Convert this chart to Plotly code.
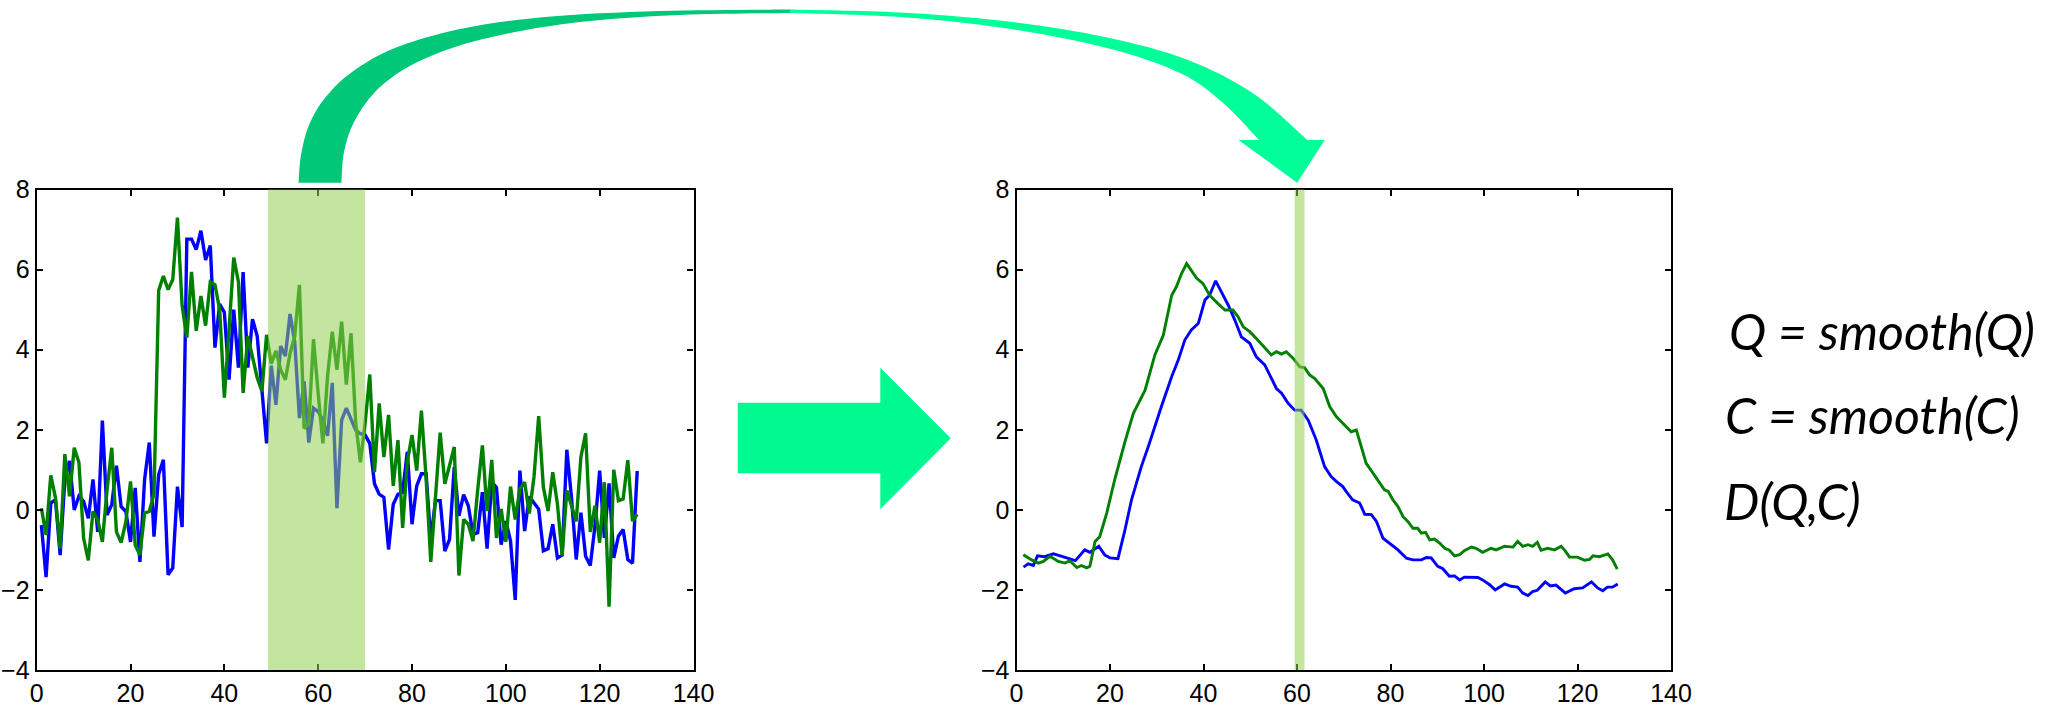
import plotly.graph_objects as go

W, H = 2070, 706

# ---------------- data ----------------
raw_x = list(range(1, 129))
raw_q = [-0.38, -1.68, 0.17, 0.25, -1.13, 0.76, 1.22, 0.0, 0.34, 0.21,
         -0.21, 0.76, -0.55, 2.23, -0.13, 0.13, 1.1, 0.08, -0.04, -0.8,
         0.55, -1.3, 0.76, 1.68, -0.67, 0.88, 1.25, -1.62, -1.45, 0.58,
         -0.43, 6.76, 6.76, 6.5, 6.97, 6.24, 6.6, 4.05, 5.14, 4.93,
         3.25, 5.0, 3.55, 5.94, 3.55, 4.76, 4.34, 3.0, 1.66, 3.6,
         2.62, 4.09, 3.84, 4.89, 4.2, 2.29, 3.21, 1.68, 2.54, 2.45,
         2.24, 1.85, 3.17, 0.04, 2.24, 2.54, 2.24, 1.99, 1.9, 1.87,
         1.66, 0.65, 0.39, 0.31, -0.99, 0.14, 0.39, 0.44, 1.45, -0.36,
         0.6, 0.9, 0.9, -0.75, 0.23, 0.23, -1.03, -0.74, 1.07, -0.15,
         0.38, 0.1, -0.61, -0.57, 0.44, -0.97, 0.69, 0.56, -0.87, -0.28,
         -0.78, -2.25, 0.98, -0.53, 0.33, 0.18, 0.02, -1.02, -0.97, -0.36,
         -1.2, -1.13, 1.5, 0.3, -1.24, -0.07, -1.16, -1.39, -0.4, 0.98,
         -0.7, 0.66, -1.2, -0.66, -0.49, -1.24, -1.33, 0.97]
raw_c = [0.04, -0.63, 0.86, 0.3, -0.97, 1.39, 0.34, 1.55, 1.18, -0.71,
         -1.26, -0.04, -0.25, -0.8, 0.5, 1.55, -0.55, -0.82, -0.3, 0.71,
         -0.88, -1.13, -0.08, -0.04, 0.4, 5.48, 5.84, 5.5, 5.75, 7.3,
         5.1, 4.3, 5.94, 4.47, 5.34, 4.6, 5.69, 5.62, 5.0, 2.8,
         4.5, 6.3, 5.69, 2.92, 4.34, 3.8, 3.3, 2.96, 4.37, 3.65,
         3.97, 3.5, 3.25, 3.9, 4.34, 5.62, 2.03, 2.16, 4.26, 2.9,
         1.66, 3.34, 4.45, 3.5, 4.7, 3.13, 4.41, 2.16, 1.19, 2.16,
         3.38, 0.94, 2.66, 1.32, 2.37, 0.6, 1.74, -0.45, 1.2, 1.87,
         0.98, 2.48, 0.8, -1.3, 0.4, 1.93, 0.65, 1.15, 1.57, -1.64,
         -0.24, -0.36, -0.78, 0.5, 1.61, -0.03, 1.25, -0.7, 0.02, -0.8,
         0.58, -0.24, 0.52, 0.69, -0.09, 0.82, 2.34, 0.56, -0.03, 0.94,
         0.14, -1.14, 0.48, 0.1, -0.29, 1.32, 1.91, -0.55, 0.1, -0.82,
         0.69, -2.42, 1.0, 0.23, 0.27, 1.24, -0.28, -0.11]

smooth_q_x = [1.5, 2.5, 3.6, 4.5, 6.0, 7.9, 9.7, 11.1, 12.6, 14.6, 15.7, 17.6, 18.9, 20, 21.7,
              23.2, 24.6, 26.7, 28.2, 31, 33.2, 34.6, 36, 37.4, 38.9, 40.3, 41.3, 42.6, 43.8,
              45.3, 46.7, 48.1, 49.9, 51.3, 53.1, 54.5, 55.6, 56.7, 58.1, 59.5, 60.9, 62.4,
              64.1, 65.9, 67.3, 68.4, 69.8, 70.5, 71.9, 73.4, 74.5, 75.9, 77, 78.4, 79.8,
              81.6, 83.4, 84.8, 86.6, 87.7, 88.7, 90.1, 91.2, 92.6, 93.7, 94.8, 95.8, 97.3,
              98.7, 99.7, 101.2, 102.4, 104.4, 105.8, 107.2, 108.3, 109.4, 110.4, 111.4,
              113.1, 114.2, 115.4, 117.4, 119.3, 121.1, 123, 124.3, 125.4, 126.4, 127.5, 128.6]
smooth_q = [-1.43, -1.35, -1.39, -1.15, -1.17, -1.1, -1.16, -1.22, -1.27, -1.0, -1.06, -0.91, -1.13, -1.2, -1.22,
            -0.5, 0.25, 1.08, 1.58, 2.58, 3.33, 3.74, 4.24, 4.49, 4.66, 5.24, 5.36, 5.72, 5.44,
            5.11, 4.74, 4.32, 4.16, 3.82, 3.62, 3.28, 3.03, 2.91, 2.66, 2.49, 2.49, 2.24,
            1.75, 1.08, 0.83, 0.71, 0.58, 0.46, 0.25, 0.17, -0.11, -0.12, -0.29, -0.71, -0.83,
            -1.0, -1.21, -1.25, -1.25, -1.19, -1.2, -1.41, -1.47, -1.66, -1.65, -1.75, -1.68, -1.68,
            -1.69, -1.75, -1.87, -2.0, -1.85, -1.91, -1.93, -2.08, -2.14, -2.04, -2.01,
            -1.8, -1.9, -1.88, -2.08, -1.97, -1.95, -1.8, -1.95, -2.02, -1.93, -1.93, -1.85]

smooth_c_x = [1.46, 3.24, 4.67, 5.73, 7.16, 8.94, 10.4, 11.4, 12.9, 13.9, 15, 15.7, 16.8, 17.8,
              19.3, 21, 23.2, 25, 27.5, 29.6, 31.4, 33.2, 34.2, 35.3, 36.4, 37.4, 38.5, 39.9,
              41.3, 43.1, 44.6, 46.3, 47.4, 48.5, 49.9, 51.3, 52.7, 54.5, 55.6, 56.7, 57.7,
              59.2, 60.6, 61.6, 62.7, 63.8, 65.6, 67, 68.4, 70.2, 71.6, 72.7, 73.8, 74.8,
              76.3, 77.3, 78.7, 79.5, 80.5, 81.6, 82.7, 83.7, 84.8, 85.8, 86.6, 87.5, 88.4,
              89.4, 90.5, 91.6, 92.6, 93.7, 94.8, 95.8, 97.3, 98.3, 99.7, 101.5, 102.6, 104.4,
              106.2, 107.2, 108.3, 109.4, 110.4, 111.4, 112.2, 113.6, 115.1, 116.5, 117.2,
              118.3, 120, 121.5, 122.6, 123.3, 124.7, 126.5, 127.5, 128.5]
smooth_c = [-1.12, -1.25, -1.33, -1.29, -1.16, -1.29, -1.33, -1.27, -1.44, -1.39, -1.45, -1.41, -0.79, -0.67,
            -0.08, 0.75, 1.7, 2.41, 2.99, 3.87, 4.36, 5.36, 5.57, 5.9, 6.15, 5.99, 5.79, 5.65,
            5.36, 5.15, 4.99, 4.99, 4.82, 4.57, 4.45, 4.28, 4.11, 3.87, 3.95, 3.89, 3.95,
            3.78, 3.57, 3.55, 3.37, 3.28, 3.03, 2.58, 2.33, 2.12, 1.95, 1.99, 1.58, 1.16,
            0.91, 0.75, 0.5, 0.46, 0.25, 0.08, -0.17, -0.29, -0.46, -0.46, -0.58, -0.56, -0.75,
            -0.73, -0.83, -0.96, -1.01, -1.15, -1.12, -1.02, -0.93, -0.96, -1.06, -0.96, -1.0, -0.91,
            -0.93, -0.79, -0.91, -0.87, -0.91, -0.81, -1.01, -0.96, -1.0, -0.91, -1.0,
            -1.18, -1.18, -1.26, -1.24, -1.15, -1.17, -1.1, -1.25, -1.48]

window_left = [49.3, 70.0]
window_right = [59.5, 61.6]

x_ticks = [0, 20, 40, 60, 80, 100, 120, 140]
y_ticks = [-4, -2, 0, 2, 4, 6, 8]
texts = ["Q = smooth(Q)", "C = smooth(C)", "D(Q,C)"]

# ---------------- figure ----------------
BLUE = "#0000ff"
GREEN = "#008000"

fig = go.Figure()
fig.add_trace(go.Scatter(x=raw_x, y=raw_q, mode="lines", line=dict(color=BLUE, width=3.4),
                         xaxis="x", yaxis="y", showlegend=False))
fig.add_trace(go.Scatter(x=raw_x, y=raw_c, mode="lines", line=dict(color=GREEN, width=3.4),
                         xaxis="x", yaxis="y", showlegend=False))
fig.add_trace(go.Scatter(x=smooth_q_x, y=smooth_q, mode="lines", line=dict(color=BLUE, width=2.9),
                         xaxis="x2", yaxis="y2", showlegend=False))
fig.add_trace(go.Scatter(x=smooth_c_x, y=smooth_c, mode="lines", line=dict(color=GREEN, width=2.9),
                         xaxis="x2", yaxis="y2", showlegend=False))


def px(x, y):
    return x / W, 1 - y / H


ydom = [1 - 670 / H, 1 - 189.5 / H]
axis_common = dict(showgrid=False, zeroline=False, showline=True, linecolor="black", linewidth=2.2,
                   mirror="ticks", ticks="inside", ticklen=6, tickwidth=1.6, tickcolor="black",
                   automargin=False,
                   tickfont=dict(family="Liberation Sans, Arial", size=25, color="black"))

fig.update_layout(
    width=W, height=H, margin=dict(l=0, r=0, t=0, b=0, pad=0, autoexpand=False),
    paper_bgcolor="white", plot_bgcolor="white",
    xaxis=dict(domain=[36.7 / W, 693.5 / W], range=[0, 140], tickvals=x_ticks, anchor="y", **axis_common),
    yaxis=dict(domain=ydom, range=[-4, 8], tickvals=y_ticks, anchor="x", **axis_common),
    xaxis2=dict(domain=[1016.5 / W, 1671 / W], range=[0, 140], tickvals=x_ticks, anchor="y2", **axis_common),
    yaxis2=dict(domain=ydom, range=[-4, 8], tickvals=y_ticks, anchor="x2", **axis_common),
)

shapes = []
# highlighted windows
for xr, xref, yref in [(window_left, "x", "y domain"), (window_right, "x2", "y2 domain")]:
    shapes.append(dict(type="rect", xref=xref, yref=yref, x0=xr[0], x1=xr[1], y0=0, y1=1,
                       fillcolor="rgba(146,208,80,0.55)", line=dict(width=0), layer="above"))


def smooth_path(pts):
    """Catmull-Rom through pixel points -> SVG cubic segments (paper coords)."""
    out = []
    n = len(pts)
    for i in range(n - 1):
        p0 = pts[i - 1] if i > 0 else pts[i]
        p1 = pts[i]
        p2 = pts[i + 1]
        p3 = pts[i + 2] if i + 2 < n else pts[i + 1]
        c1 = (p1[0] + (p2[0] - p0[0]) / 6, p1[1] + (p2[1] - p0[1]) / 6)
        c2 = (p2[0] - (p3[0] - p1[0]) / 6, p2[1] - (p3[1] - p1[1]) / 6)
        a, b, c = px(*c1), px(*c2), px(*p2)
        out.append(f"C {a[0]:.5f},{a[1]:.5f} {b[0]:.5f},{b[1]:.5f} {c[0]:.5f},{c[1]:.5f}")
    return " ".join(out)


def P(x, y):
    a = px(x, y)
    return f"{a[0]:.5f},{a[1]:.5f}"


# curved arrow, left (darker) half
outer_l = [(298.6, 182.7), (301, 155), (309, 125), (325, 98), (352, 72), (395, 48), (460, 29),
           (545, 17), (660, 11), (790, 9.5)]
inner_l = [(790, 13), (680, 15), (590, 21), (515, 32), (455, 47), (408, 67), (375, 92),
           (354, 122), (344, 152), (341.4, 182.7)]
path_l = (f"M {P(*outer_l[0])} " + smooth_path(outer_l) + f" L {P(*inner_l[0])} "
          + smooth_path(inner_l) + " Z")
shapes.append(dict(type="path", xref="paper", yref="paper", path=path_l,
                   fillcolor="rgb(0,200,120)", line=dict(width=0), layer="above"))

# curved arrow, right (bright) half with head
outer_r = [(790, 9.5), (900, 12.5), (1004, 21), (1105, 37), (1188, 60), (1254, 94),
           (1307.5, 140)]
inner_r = [(1259.2, 140), (1222, 102), (1180, 73), (1107, 48), (1004, 28), (900, 17),
           (790, 13)]
path_r = (f"M {P(*outer_r[0])} " + smooth_path(outer_r)
          + f" L {P(1324.7, 140)} L {P(1297.2, 182.7)} L {P(1238.5, 140)} L {P(*inner_r[0])} "
          + smooth_path(inner_r) + " Z")
shapes.append(dict(type="path", xref="paper", yref="paper", path=path_r,
                   fillcolor="rgb(0,255,152)", line=dict(width=0), layer="above"))

# block arrow in the middle
blk = [(737.7, 402.7), (880.3, 402.7), (880.3, 367.7), (950.7, 438.3), (880.3, 509),
       (880.3, 473.3), (737.7, 473.3)]
path_b = "M " + " L ".join(P(*p) for p in blk) + " Z"
shapes.append(dict(type="path", xref="paper", yref="paper", path=path_b,
                   fillcolor="rgb(0,250,146)", line=dict(width=0), layer="above"))

fig.update_layout(shapes=shapes)

# text on the right
text_pos = [(1727, 331), (1723, 415), (1722, 501)]
for t, (tx, ty) in zip(texts, text_pos):
    ax, ay = px(tx, ty)
    fig.add_annotation(x=ax, y=ay, xref="paper", yref="paper", text=t, showarrow=False,
                       xanchor="left", yanchor="middle",
                       font=dict(family="Lato", size=50, color="black", style="italic"))

fig.write_html("out.html", config={"displayModeBar": False},
               post_script="document.body.style.margin='0px';document.body.style.overflow='hidden';")
